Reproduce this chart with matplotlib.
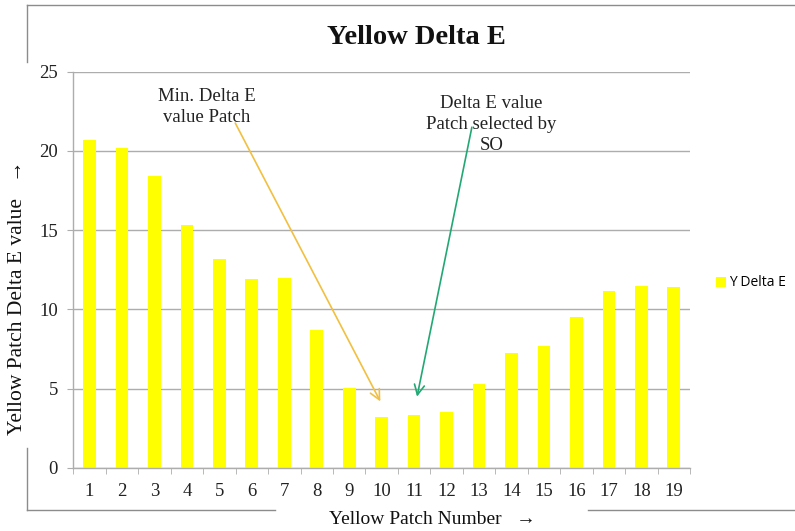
import matplotlib
matplotlib.use("Agg")
import matplotlib.pyplot as plt
from matplotlib.lines import Line2D

plt.rcParams['font.family'] = ['Liberation Serif', 'DejaVu Sans']

patches = list(range(1, 20))
delta_e = [20.7, 20.2, 18.45, 15.3, 13.2, 11.9, 12.0, 8.7, 5.02, 3.23,
           3.35, 3.55, 5.3, 7.28, 7.72, 9.5, 11.14, 11.48, 11.39]
series_name = "Y Delta E"
title = "Yellow Delta E"
xlabel = "Yellow Patch Number   \u2192"
ylabel = "Yellow Patch Delta E value   \u2192"
yticks = [0, 5, 10, 15, 20, 25]

bar_color = "#FFFF00"
grid_color = "#ADADAD"
frame_color = "#8C8C8C"

fig = plt.figure(figsize=(7.95, 5.31), dpi=100)
W, H = 795, 531
ax = fig.add_axes([73.3 / W, 1 - 468 / H, (690 - 73.3) / W, (468 - 71.7) / H])

ax.bar(patches, delta_e, width=0.39, color=bar_color, zorder=2, label=series_name)
ax.set_xlim(0.5, 19.5)
ax.set_ylim(0, 25)
ax.set_yticks(yticks)
ax.set_xticks(patches)
ax.set_xticks([p - 0.5 for p in patches] + [19.5], minor=True)
ax.yaxis.grid(True, color=grid_color, linewidth=1.0, zorder=0)
ax.set_axisbelow(True)
for s in ['top', 'right']:
    ax.spines[s].set_visible(False)
for s in ['left', 'bottom']:
    ax.spines[s].set_color(grid_color)
    ax.spines[s].set_linewidth(1.0)
ax.tick_params(axis='y', which='major', length=4, color=grid_color, labelsize=13.5,
               pad=7, labelcolor='#222222')
ax.tick_params(axis='x', which='major', length=0, labelsize=13.5, pad=11,
               labelcolor='#222222')
ax.tick_params(axis='x', which='minor', length=4, color=grid_color)

# title and axis labels
fig.text(416 / W, 1 - 37 / H, title, ha='center', va='center', fontsize=20.5,
         fontweight='bold', color='#111111')
fig.text(432 / W, 1 - 519 / H, xlabel, ha='center', va='center', fontsize=14,
         color='#111111')
fig.text(18 / W, 1 - 298 / H, ylabel, ha='center', va='center', fontsize=15.5,
         rotation=90, color='#111111')

# legend
ax.legend(loc='center left', bbox_to_anchor=(716 / W, 1 - 283 / H),
          bbox_transform=fig.transFigure, frameon=False, borderpad=0,
          borderaxespad=0, handlelength=0.75, handleheight=0.75,
          handletextpad=0.2, prop={'family': 'Open Sans', 'size': 10})

# annotations
ax.text(4.61, 22.76, "Min. Delta E\nvalue Patch", ha='center', va='center',
        fontsize=13.5, linespacing=1.3, color='#222222')
ax.annotate('', xy=(9.96, 4.2), xytext=(5.49, 21.76),
            arrowprops=dict(arrowstyle='->', color='#F2C040', lw=1.2,
                            mutation_scale=18, shrinkA=0, shrinkB=0))
ax.text(13.39, 21.65, "Delta E value\nPatch selected by\nSO", ha='center',
        va='center', fontsize=13.5, linespacing=1.3, color='#222222')
ax.annotate('', xy=(11.09, 4.5), xytext=(12.78, 21.5),
            arrowprops=dict(arrowstyle='->', color='#22A874', lw=1.2,
                            mutation_scale=18, shrinkA=0, shrinkB=0))

# outer chart frame
def seg(x0, y0, x1, y1):
    fig.add_artist(Line2D([x0 / W, x1 / W], [1 - y0 / H, 1 - y1 / H],
                          transform=fig.transFigure, color=frame_color, lw=1.0))

seg(27, 5, W, 5)
seg(27, 5, 27, 62)
seg(27, 448, 27, 510)
seg(27, 510, 275, 510)
seg(588, 510, W, 510)

fig.savefig("out.png", dpi=100, facecolor='white')
